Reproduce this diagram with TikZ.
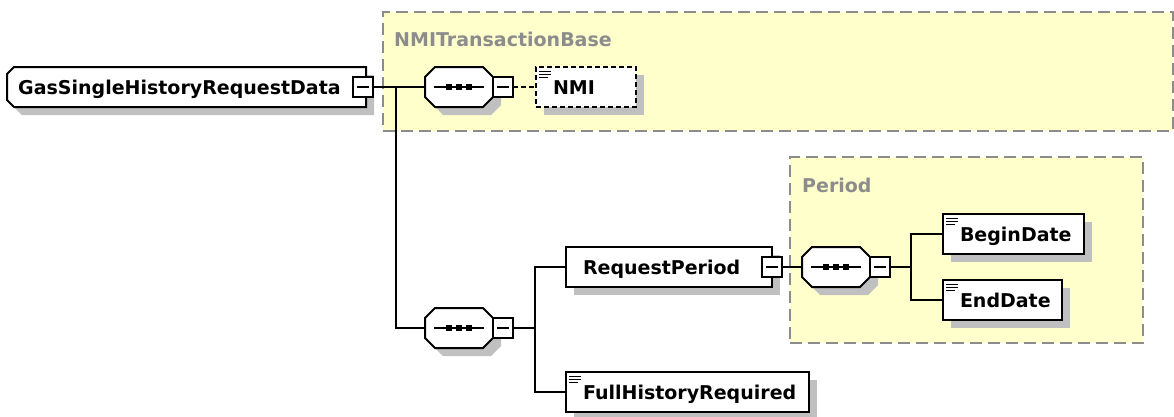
\documentclass[tikz,border=0pt]{standalone}
\usepackage{fontspec}
\setmainfont{DejaVu Sans}
\usepackage{tikz}
\usetikzlibrary{positioning,calc,shadows}
\definecolor{groupyellow}{RGB}{255,255,204}
\definecolor{groupgray}{RGB}{140,140,140}
\definecolor{shadowgray}{RGB}{192,192,192}

\begin{document}
\begin{tikzpicture}[
          x=1pt,y=-1pt,
          font=\bfseries\fontsize{19}{22}\selectfont,
          conn/.style={line width=2pt},
          elshadow/.style={drop shadow={shadow xshift=8pt,shadow yshift=-8pt,fill=shadowgray,opacity=1}},
          elnode/.style={draw,fill=white,line width=2pt,elshadow,minimum height=40pt,inner ysep=0pt,inner xsep=17pt,
            text height=18pt,text depth=4pt,align=left,anchor=west},
          leafnode/.style={elnode,path picture={
            \foreach \dy/\len in {4.5/12,7.5/12,10.5/9}
              \draw[solid,line width=1.3pt] ([xshift=3pt,yshift=-\dy pt]path picture bounding box.north west) -- ++(\len pt,0pt);}},
          optnode/.style={leafnode,dash pattern=on 5pt off 3pt},
          roottext/.style={anchor=west,inner ysep=0pt,inner xsep=11pt,minimum height=40pt,
            text height=18pt,text depth=4pt,align=left},
          rootshape/.style={draw,fill=white,line width=2pt,elshadow},
          seqnode/.style={minimum width=68pt,minimum height=40pt,inner sep=0pt,outer sep=0pt},
          seqshape/.style={draw,fill=white,line width=2pt,elshadow,
            path picture={
              \draw[line width=2pt] ([xshift=-25pt]path picture bounding box.center) -- ([xshift=25pt]path picture bounding box.center);
              \foreach \dx in {-10,0,10}
                \fill[black] ([xshift=\dx pt-3pt,yshift=-3pt]path picture bounding box.center) rectangle ++(6pt,6pt);}},
          minusnode/.style={draw,fill=white,line width=2pt,minimum width=20pt,minimum height=20pt,inner sep=0pt,outer sep=0pt,
            path picture={\draw[line width=1.6pt] ([xshift=4pt]path picture bounding box.west) -- ([xshift=-4pt]path picture bounding box.east);}},
          groupnode/.style={draw=groupgray,fill=groupyellow,line width=2pt,dash pattern=on 12pt off 6pt,inner sep=0pt},
          grouplabel/.style={text=groupgray,anchor=west,inner sep=0pt}
          ]
          \useasboundingbox (0,0) rectangle (1174,416);
          % the groups
          \node[groupnode,minimum width=790pt,minimum height=119pt] (base) at (778,71.5) {};
          \node[grouplabel] (baselabel) at (394,39) {NMITransactionBase};
          \node[groupnode,minimum width=353pt,minimum height=186pt] (period) at (966.5,250) {};
          \node[grouplabel] (periodlabel) at (802,185) {Period};
          % the root element
          \coordinate (rootw) at (7,87);
          \draw[rootshape] ([yshift=13pt]rootw) -- ([xshift=7pt,yshift=20pt]rootw) -- ([xshift=359pt,yshift=20pt]rootw)
            -- ([xshift=359pt,yshift=-20pt]rootw) -- ([xshift=7pt,yshift=-20pt]rootw) -- ([yshift=-13pt]rootw) -- cycle;
          \node[roottext,text width=337pt] (root) at (rootw) {GasSingleHistoryRequestData};
          \node[minusnode] (rootminus) at ([xshift=-3pt]root.east) {};
          % the sequences
          \node[seqnode] (seqa) at (459,87) {};
          \node[seqnode] (seqb) at (459,328) {};
          \node[seqnode] (seqc) at (836,267) {};
          \foreach \s in {seqa,seqb,seqc}
            \draw[seqshape] ([xshift=10pt]\s.north west) -- ([xshift=-10pt]\s.north east) -- ([yshift=-10pt]\s.north east)
              -- ([yshift=10pt]\s.south east) -- ([xshift=-10pt]\s.south east) -- ([xshift=10pt]\s.south west)
              -- ([yshift=10pt]\s.south west) -- ([yshift=-10pt]\s.north west) -- cycle;
          \node[minusnode,right=0pt of seqa] (seqaminus) {};
          \node[minusnode,right=0pt of seqb] (seqbminus) {};
          \node[minusnode,right=0pt of seqc] (seqcminus) {};
          % the elements
          \node[optnode,text width=66pt] (nmi) at (535,87) {NMI};
          \node[elnode,text width=172pt] (reqperiod) at (565,267) {RequestPeriod};
          \node[minusnode] (reqminus) at ([xshift=-1pt]reqperiod.east) {};
          \foreach \name/\txt/\xcoord/\ycoord/\w in {fullhist/FullHistoryRequired/565/392/209,
              begindate/BeginDate/942/234/107, enddate/EndDate/942/300/85}
            \node[leafnode,text width=\w pt] (\name) at (\xcoord,\ycoord) {\txt};
          % the connectors
          \coordinate (rootfork) at ($(rootminus.east)+(23,0)$);
          \draw[conn] (rootminus) -- (seqa);
          \draw[conn] (rootfork) |- (seqb.west);
          \draw[conn,dash pattern=on 5pt off 3pt] (seqaminus) -- (nmi);
          \coordinate (seqbfork) at ($(seqbminus.east)+(22,0)$);
          \draw[conn] (seqbminus) -- (seqbfork);
          \draw[conn] (reqperiod.west) -| (seqbfork) |- (fullhist.west);
          \draw[conn] (reqminus) -- (seqc);
          \coordinate (seqcfork) at ($(seqcminus.east)+(21,0)$);
          \draw[conn] (seqcminus) -- (seqcfork);
          \draw[conn] (begindate.west) -| (seqcfork) |- (enddate.west);
        \end{tikzpicture}
\end{document}
